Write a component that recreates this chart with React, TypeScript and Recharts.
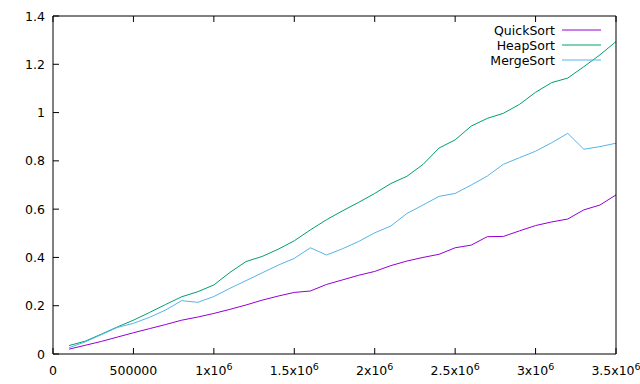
import React from "react";
import { Legend, Line, LineChart, XAxis, YAxis } from "recharts";

const sizes = [
  100000, 200000, 300000, 400000, 500000, 600000, 700000, 800000, 900000, 1000000,
  1100000, 1200000, 1300000, 1400000, 1500000, 1600000, 1700000, 1800000, 1900000, 2000000,
  2100000, 2200000, 2300000, 2400000, 2500000, 2600000, 2700000, 2800000, 2900000, 3000000,
  3100000, 3200000, 3300000, 3400000, 3500000,
];

const quickSort = [
  0.02, 0.036, 0.052, 0.07, 0.088, 0.105, 0.122, 0.14, 0.153, 0.168,
  0.185, 0.203, 0.223, 0.24, 0.255, 0.261, 0.288, 0.307, 0.326, 0.342,
  0.366, 0.385, 0.4, 0.413, 0.44, 0.451, 0.486, 0.487, 0.51, 0.532,
  0.547, 0.559, 0.597, 0.617, 0.659,
];

const heapSort = [
  0.035, 0.053, 0.082, 0.112, 0.14, 0.172, 0.205, 0.237, 0.258, 0.286,
  0.338, 0.383, 0.404, 0.434, 0.469, 0.514, 0.556, 0.593, 0.628, 0.665,
  0.706, 0.736, 0.785, 0.853, 0.887, 0.944, 0.976, 0.997, 1.034, 1.084,
  1.124, 1.143, 1.19, 1.239, 1.294,
];

const mergeSort = [
  0.026, 0.05, 0.08, 0.11, 0.127, 0.152, 0.182, 0.221, 0.214, 0.238,
  0.272, 0.304, 0.336, 0.368, 0.396, 0.44, 0.41, 0.436, 0.466, 0.502,
  0.53, 0.582, 0.617, 0.653, 0.665, 0.7, 0.737, 0.786, 0.813, 0.84,
  0.875, 0.914, 0.848, 0.859, 0.873,
];

const seriesNames = ["QuickSort", "HeapSort", "MergeSort"];
const xTicks = [0, 500000, 1000000, 1500000, 2000000, 2500000, 3000000, 3500000];
const yTicks = [0, 0.2, 0.4, 0.6, 0.8, 1, 1.2, 1.4];

const data = sizes.map((n, i) => ({
  n,
  quick: quickSort[i],
  heap: heapSort[i],
  merge: mergeSort[i],
}));

const FONT = "'DejaVu Sans', sans-serif";
const FS = 12.5;
const TICK = 6;

function BottomTick({ x, y, payload }: any) {
  const v = payload.value as number;
  let label: React.ReactNode = String(v);
  if (v >= 1000000) {
    label = (
      <>
        <tspan>{`${v / 1000000}x10`}</tspan>
        <tspan dy={-5} fontSize={9.5}>6</tspan>
      </>
    );
  }
  return (
    <g>
      <line x1={x} y1={y} x2={x} y2={y - TICK} stroke="#000" />
      <text x={x} y={y + 21} textAnchor="middle" fontFamily={FONT} fontSize={FS} fill="#000">
        {label}
      </text>
    </g>
  );
}

function TopTick({ x, y }: any) {
  return <line x1={x} y1={y} x2={x} y2={y + TICK} stroke="#000" />;
}

function LeftTick({ x, y, payload }: any) {
  return (
    <g>
      <line x1={x} y1={y} x2={x + TICK} y2={y} stroke="#000" />
      <text x={x - 8} y={y + 4.5} textAnchor="end" fontFamily={FONT} fontSize={FS} fill="#000">
        {String(payload.value)}
      </text>
    </g>
  );
}

function RightTick({ x, y }: any) {
  return <line x1={x} y1={y} x2={x - TICK} y2={y} stroke="#000" />;
}

function LegendBox({ payload }: any) {
  const items = seriesNames
    .map((name) => (payload || []).find((p: any) => p.value === name))
    .filter(Boolean);
  return (
    <svg width={125} height={46} style={{ display: "block" }}>
      {items.map((p: any, i: number) => (
        <g key={p.value}>
          <text
            x={75}
            y={8 + i * 15 + 4.5}
            textAnchor="end"
            fontFamily={FONT}
            fontSize={FS}
            fill="#000"
          >
            {p.value}
          </text>
          <line x1={82} y1={8 + i * 15} x2={121} y2={8 + i * 15} stroke={p.color} strokeWidth={1} />
        </g>
      ))}
    </svg>
  );
}

export default function App() {
  return (
    <div style={{ position: "absolute", left: 0, top: 0, width: 640, height: 384, background: "#fff" }}>
      <LineChart width={640} height={384} data={data} margin={{ top: 15, right: 23, bottom: 29, left: 52 }}>
        <XAxis
          dataKey="n"
          type="number"
          domain={[0, 3500000]}
          ticks={xTicks}
          interval={0}
          height={1}
          tickSize={0}
          tickMargin={0}
          tickLine={false}
          axisLine={{ stroke: "#000" }}
          tick={<BottomTick />}
        />
        <XAxis
          xAxisId="top"
          orientation="top"
          dataKey="n"
          type="number"
          domain={[0, 3500000]}
          ticks={xTicks}
          interval={0}
          height={1}
          tickSize={0}
          tickMargin={0}
          tickLine={false}
          axisLine={{ stroke: "#000" }}
          tick={<TopTick />}
        />
        <YAxis
          type="number"
          domain={[0, 1.4]}
          ticks={yTicks}
          interval={0}
          width={1}
          tickSize={0}
          tickMargin={0}
          tickLine={false}
          axisLine={{ stroke: "#000" }}
          tick={<LeftTick />}
        />
        <YAxis
          yAxisId="right"
          orientation="right"
          type="number"
          domain={[0, 1.4]}
          ticks={yTicks}
          interval={0}
          width={1}
          tickSize={0}
          tickMargin={0}
          tickLine={false}
          axisLine={{ stroke: "#000" }}
          tick={<RightTick />}
        />
        <Legend
          layout="horizontal"
          verticalAlign="middle"
          align="center"
          content={<LegendBox />}
          wrapperStyle={{ position: "absolute", left: 480, top: 22, width: 125, height: 46 }}
        />
        <Line name="QuickSort" dataKey="quick" stroke="#9400d3" strokeWidth={1} dot={false} isAnimationActive={false} />
        <Line name="HeapSort" dataKey="heap" stroke="#009e73" strokeWidth={1} dot={false} isAnimationActive={false} />
        <Line name="MergeSort" dataKey="merge" stroke="#56b4e9" strokeWidth={1} dot={false} isAnimationActive={false} />
      </LineChart>
    </div>
  );
}
